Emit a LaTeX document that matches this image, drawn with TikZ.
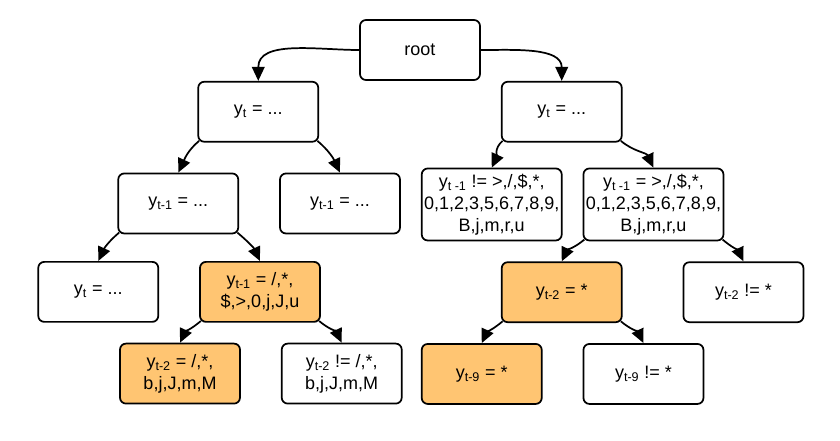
\documentclass[tikz,border=0pt]{standalone}
\usepackage{fontspec}
\setmainfont{Liberation Sans}
\usepackage{xcolor}
\definecolor{hitorange}{HTML}{FFC572}
\usetikzlibrary{arrows.meta, positioning}

\begin{document}
\begin{tikzpicture}[
    box/.style={rectangle, rounded corners=4.5pt, draw=black, fill=#1, minimum width=90pt, minimum height=45pt, align=center, font=\fontsize{13.5}{16.5}\selectfont, line width=1.3pt, inner sep=1pt},
    box/.default=white,
    wide/.style={box, minimum width=105pt, minimum height=54pt},
    arr/.style={-{Triangle[length=10.5pt, width=9.5pt]}, line width=1.3pt},
]
    \useasboundingbox (-315pt,37.5pt) rectangle (315pt,-292.5pt);

    \node[box] (root) {root};
    \node[box, below left=0pt and 30pt of root] (lyt) {y\textsubscript{t} = ...};
    \node[box, below right=0pt and 15pt of root] (ryt) {y\textsubscript{t} = ...};

    % left branch
    \node[box, below=22.5pt of lyt, xshift=-60pt] (la) {y\textsubscript{t-1} = ...};
    \node[box, right=30pt of la] (lb) {y\textsubscript{t-1} = ...};
    \node[box, below=20pt of la, xshift=-60pt] (laa) {y\textsubscript{t} = ...};
    \node[box=hitorange, right=30pt of laa] (lab) {y\textsubscript{t-1} = /,*,\\\$,>,0,j,J,u};
    \node[box=hitorange, below=15pt of lab, xshift=-60pt] (lba) {y\textsubscript{t-2} = /,*,\\b,j,J,m,M};
    \node[box, right=30pt of lba] (lbb) {y\textsubscript{t-2} != /,*,\\b,j,J,m,M};

    % right branch
    \node[wide, below=18.75pt of ryt, xshift=-52.5pt] (ra) {y\textsubscript{t -1} != >,/,\$,*,\\0,1,2,3,5,6,7,8,9,\\B,j,m,r,u};
    \node[wide, right=15pt of ra] (rb) {y\textsubscript{t -1} = >,/,\$,*,\\0,1,2,3,5,6,7,8,9,\\B,j,m,r,u};
    \node[box=hitorange, anchor=north, yshift=-15pt] (rba) at (ryt |- rb.south) {y\textsubscript{t-2} = *};
    \node[box, right=45pt of rba] (rbb) {y\textsubscript{t-2} != *};
    \node[box=hitorange, below=15pt of rba, xshift=-60pt] (rbaa) {y\textsubscript{t-9} = *};
    \node[box, right=30pt of rbaa] (rbab) {y\textsubscript{t-9} != *};

    \draw[arr] (root.west) to[out=180, in=90] (lyt.north);
    \draw[arr] (root.east) to[out=0, in=90] (ryt.north);

    \draw[arr] ([shift={(1.3pt,1.3pt)}]lyt.south west) to[out=-140, in=65] (la.north);
    \draw[arr] ([shift={(-1.3pt,1.3pt)}]lyt.south east) to[out=-40, in=115] (lb.north);
    \draw[arr] ([shift={(1.3pt,1.3pt)}]la.south west) to[out=-140, in=65] (laa.north);
    \draw[arr] ([shift={(-1.3pt,1.3pt)}]la.south east) to[out=-40, in=115] (lab.north);
    \draw[arr] ([shift={(1.3pt,1.3pt)}]lab.south west) to[out=-140, in=65] (lba.north);
    \draw[arr] ([shift={(-1.3pt,1.3pt)}]lab.south east) to[out=-40, in=115] (lbb.north);

    \draw[arr] ([shift={(1.3pt,1.3pt)}]ryt.south west) to[out=-140, in=65] (ra.north);
    \draw[arr] ([shift={(-1.3pt,1.3pt)}]ryt.south east) to[out=-40, in=115] (rb.north);
    \draw[arr] ([shift={(1.3pt,1.3pt)}]rb.south west) to[out=-140, in=65] (rba.north);
    \draw[arr] ([shift={(-1.3pt,1.3pt)}]rb.south east) to[out=-40, in=115] (rbb.north);
    \draw[arr] ([shift={(1.3pt,1.3pt)}]rba.south west) to[out=-140, in=65] (rbaa.north);
    \draw[arr] ([shift={(-1.3pt,1.3pt)}]rba.south east) to[out=-40, in=115] (rbab.north);
\end{tikzpicture}
\end{document}
